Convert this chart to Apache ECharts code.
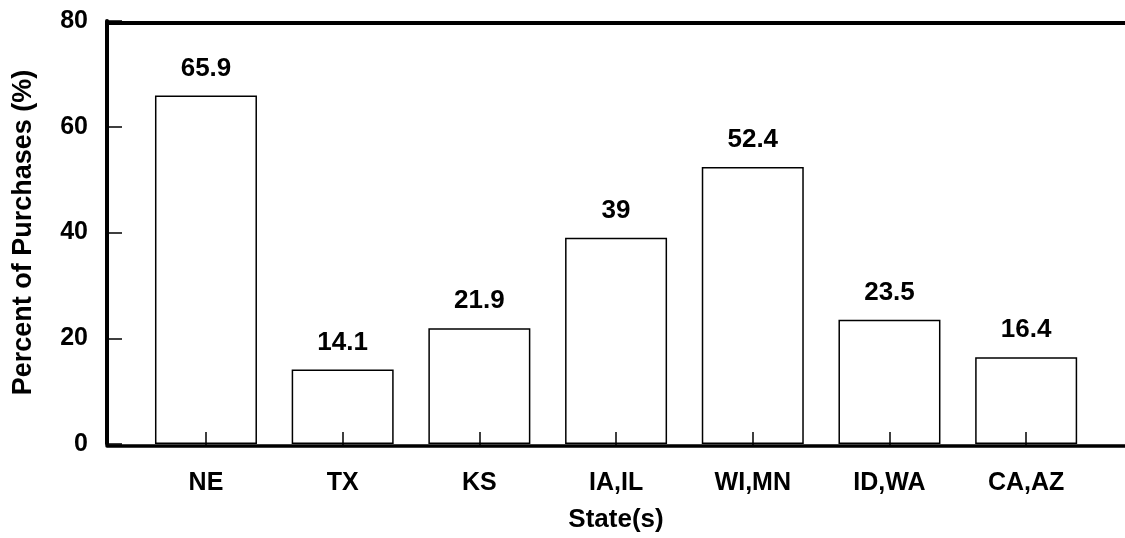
<!DOCTYPE html>
<html>
<head>
<meta charset="utf-8">
<script src="https://cdn.jsdelivr.net/npm/echarts@6/dist/echarts.min.js"></script>
<style>
  html, body { margin: 0; padding: 0; background: #fff; }
  #chart { width: 1125px; height: 538px; }
</style>
</head>
<body>
<div id="chart"></div>
<script>
const categories = ['NE', 'TX', 'KS', 'IA,IL', 'WI,MN', 'ID,WA', 'CA,AZ'];
const purchasePct = [65.9, 14.1, 21.9, 39, 52.4, 23.5, 16.4];
const yTicks = [0, 20, 40, 60, 80];
const xTitle = 'State(s)';
const yTitle = 'Percent of Purchases (%)';

const categoryIdx = categories.map((c, i) => i);
const FONT = '"Liberation Sans", Arial, Helvetica, sans-serif';

const chart = echarts.init(document.getElementById('chart'), null, { renderer: 'canvas' });

const xMin = -0.724, xMax = 6.723;

chart.setOption({
  animation: false,
  backgroundColor: '#fff',
  grid: { left: 107, right: 0, top: 21, bottom: 92, containLabel: false },
  xAxis: [
    {
      type: 'value',
      position: 'bottom',
      z: 5,
      min: xMin,
      max: xMax,
      offset: 2,
      axisLine: { show: true, onZero: false, lineStyle: { color: '#000', width: 3.5 } },
      axisTick: { show: true, inside: true, length: 14, customValues: categoryIdx, lineStyle: { color: '#000', width: 1.5 } },
      axisLabel: {
        show: true,
        customValues: categoryIdx,
        formatter: v => categories[Math.round(v)] || '',
        color: '#000', fontSize: 25, fontWeight: 'bold', fontFamily: FONT, margin: 25
      },
      splitLine: { show: false },
      name: xTitle,
      nameLocation: 'middle',
      nameGap: 61,
      nameTextStyle: { color: '#000', fontSize: 26, fontWeight: 'bold', fontFamily: FONT }
    },
    {
      type: 'value',
      position: 'top',
      z: 5,
      min: xMin,
      max: xMax,
      offset: -2,
      axisLine: { show: true, onZero: false, lineStyle: { color: '#000', width: 4 } },
      axisTick: { show: false },
      axisLabel: { show: false },
      splitLine: { show: false }
    }
  ],
  yAxis: {
    type: 'value',
    z: 5,
    min: yTicks[0],
    max: yTicks[yTicks.length - 1],
    interval: yTicks[1] - yTicks[0],
    position: 'left',
    axisLine: { show: true, onZero: false, lineStyle: { color: '#000', width: 4 } },
    axisTick: { show: true, inside: true, length: 15, lineStyle: { color: '#000', width: 1.5 } },
    axisLabel: { color: '#000', fontSize: 25, fontWeight: 'bold', fontFamily: FONT, margin: 19 },
    splitLine: { show: false },
    name: yTitle,
    nameLocation: 'middle',
    nameGap: 70,
    nameTextStyle: { color: '#000', fontSize: 27, fontWeight: 'bold', fontFamily: FONT }
  },
  series: [
    {
      type: 'bar',
      xAxisIndex: 0,
      data: categories.map((c, i) => [i, purchasePct[i]]),
      barWidth: 102,
      itemStyle: { color: '#fff', borderColor: '#000', borderWidth: 1.5 },
      label: {
        show: true,
        position: 'top',
        distance: 14,
        formatter: p => String(p.value[1]),
        color: '#000', fontSize: 26, fontWeight: 'bold', fontFamily: FONT
      }
    }
  ]
});
</script>
</body>
</html>
